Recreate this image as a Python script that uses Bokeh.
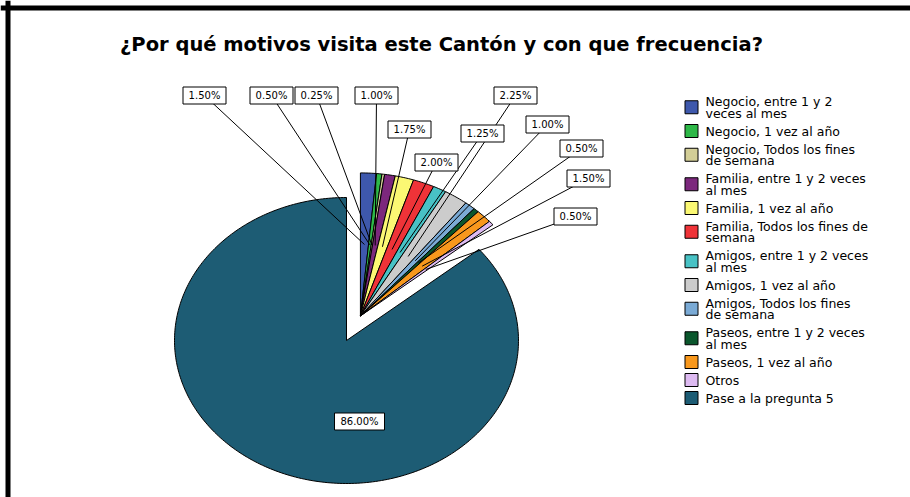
import numpy as np
from bokeh.plotting import figure
from bokeh.models import ColumnDataSource, Span
from bokeh.core.properties import value
from bokeh.embed import file_html
from bokeh.resources import INLINE

# ---------------- data ----------------
TITLE = "¿Por qué motivos visita este Cantón y con que frecuencia?"

CATEGORIES = [
    "Negocio, entre 1 y 2 veces al mes",
    "Negocio, 1 vez al año",
    "Negocio, Todos los fines de semana",
    "Familia, entre 1 y 2 veces al mes",
    "Familia, 1 vez al año",
    "Familia, Todos los fines de semana",
    "Amigos, entre 1 y 2 veces al mes",
    "Amigos, 1 vez al año",
    "Amigos, Todos los fines de semana",
    "Paseos, entre 1 y 2 veces al mes",
    "Paseos, 1 vez al año",
    "Otros",
    "Pase a la pregunta 5",
]

# legend wording with the line breaks of the reference
LEGEND_LABELS = [
    "Negocio, entre 1 y 2\nveces al mes",
    "Negocio, 1 vez al año",
    "Negocio, Todos los fines\nde semana",
    "Familia, entre 1 y 2 veces\nal mes",
    "Familia, 1 vez al año",
    "Familia, Todos los fines de\nsemana",
    "Amigos, entre 1 y 2 veces\nal mes",
    "Amigos, 1 vez al año",
    "Amigos, Todos los fines\nde semana",
    "Paseos, entre 1 y 2 veces\nal mes",
    "Paseos, 1 vez al año",
    "Otros",
    "Pase a la pregunta 5",
]

PERCENTS = [1.50, 0.50, 0.25, 1.00, 1.75, 2.00, 1.25, 2.25, 1.00, 0.50, 1.50, 0.50, 86.00]

COLORS = ["#3E58AC", "#2EB848", "#D3CE97", "#7C287D", "#FBF873", "#EF3338",
          "#48C2C5", "#CCCCCC", "#7AAAD5", "#0A562C", "#F8981D", "#DDBAF1", "#1D5C74"]

EXPLODED = [True] * 12 + [False]

# ---------------- layout (page pixels) ----------------
W, H = 910, 497
CX, CY = 346.0, 340.0          # pie centre
RX, RY = 172.0, 143.0          # pie radii (reference is horizontally stretched)
EXPLODE = 0.19                  # explode distance, fraction of radius
LEADER_R = 0.5                  # leader end, fraction of radius

LABEL_XY = [(204, 95), (271, 95), (316, 95), (376, 95), (409, 129), (436, 162),
            (482, 133), (515, 95), (547, 124), (581, 148), (588, 178), (575, 216),
            (359, 421)]

LEG_SQ_X = 691
LEG_TX_X = 705
LEG_Y_START = 101
LEG_LINE = 11.5
LEG_ADV = 18.0

p = figure(width=W, height=H, x_range=(0, W), y_range=(H, 0),
           output_backend="svg", toolbar_location=None,
           x_axis_type=None, y_axis_type=None, min_border=0)
p.grid.visible = False
p.outline_line_color = None
p.background_fill_color = "white"
p.border_fill_color = "white"

# frame border pieces (top + left) like the reference crop
p.add_layout(Span(location=7.5, dimension="height", line_color="black", line_width=5))
p.add_layout(Span(location=7.5, dimension="width", line_color="black", line_width=5))

# ---------------- pie slices ----------------
vals = np.array(PERCENTS, dtype=float)
edges = np.concatenate([[0.0], np.cumsum(vals)]) / vals.sum() * 2 * np.pi
exp_idx = [i for i, e in enumerate(EXPLODED) if e]
bis_group = (edges[exp_idx[0]] + edges[exp_idx[-1] + 1]) / 2
off_x = EXPLODE * RX * np.sin(bis_group)
off_y = -EXPLODE * RY * np.cos(bis_group)

xs, ys, lx0, ly0, lx1, ly1 = [], [], [], [], [], []
for i, v in enumerate(vals):
    t0, t1 = edges[i], edges[i + 1]
    ax, ay = (CX + off_x, CY + off_y) if EXPLODED[i] else (CX, CY)
    n = max(3, int(np.degrees(t1 - t0)) + 2)
    t = np.linspace(t0, t1, n)
    xs.append([ax] + list(ax + RX * np.sin(t)))
    ys.append([ay] + list(ay - RY * np.cos(t)))
    if EXPLODED[i]:
        tm = (t0 + t1) / 2
        lx0.append(LABEL_XY[i][0]); ly0.append(LABEL_XY[i][1])
        lx1.append(ax + LEADER_R * RX * np.sin(tm))
        ly1.append(ay - LEADER_R * RY * np.cos(tm))

p.patches(xs=xs, ys=ys, fill_color=COLORS, line_color="black", line_width=1)
p.segment(x0=lx0, y0=ly0, x1=lx1, y1=ly1, line_color="black", line_width=1)

# ---------------- percent labels ----------------
txt = [f"{v:.2f}%" for v in vals]
box_w = [7 * len(s) + 8 for s in txt]
lab = ColumnDataSource(dict(x=[q[0] for q in LABEL_XY], y=[q[1] for q in LABEL_XY],
                            t=txt, w=box_w))
p.rect(x="x", y="y", width="w", height=17, source=lab, fill_color="white",
       line_color="black", line_width=1)
p.text(x="x", y="y", text="t", source=lab, text_align="center", text_baseline="middle",
       text_font=value("DejaVu Sans"), text_font_size="10px", text_color="black")

# ---------------- title ----------------
p.text(x=[441], y=[44], text=[TITLE], text_align="center", text_baseline="middle",
       text_font=value("DejaVu Sans"), text_font_style="bold",
       text_font_size="19.5px", text_color="black")

# ---------------- legend ----------------
sq_y, t_x, t_y, t_t = [], [], [], []
y = LEG_Y_START
for lbl in LEGEND_LABELS:
    lines = lbl.split("\n")
    ly = [y + k * LEG_LINE for k in range(len(lines))]
    sq_y.append(float(np.mean(ly)))
    for s, yy in zip(lines, ly):
        t_x.append(LEG_TX_X); t_y.append(yy); t_t.append(s)
    y += LEG_ADV + LEG_LINE * (len(lines) - 1)

p.rect(x=[LEG_SQ_X] * len(sq_y), y=sq_y, width=13, height=13, fill_color=COLORS,
       line_color="black", line_width=1)
p.text(x=t_x, y=t_y, text=t_t, text_align="left", text_baseline="middle",
       text_font=value("DejaVu Sans"), text_font_size="12.5px", text_color="black")

open("out.html", "w").write(file_html(p, INLINE))
